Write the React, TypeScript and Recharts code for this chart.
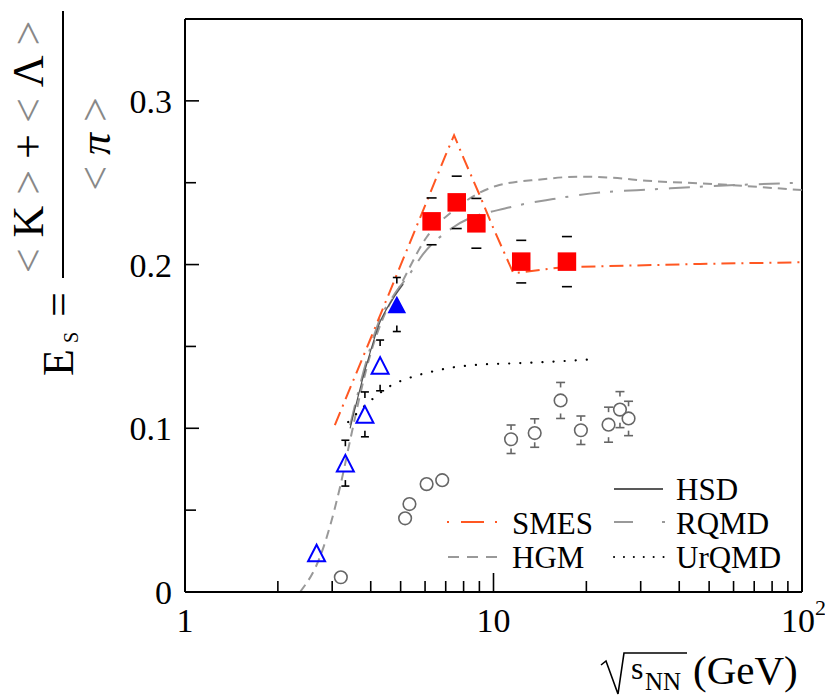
import React from "react";
import {
  ComposedChart,
  XAxis,
  YAxis,
  Line,
  Scatter,
  ReferenceLine,
  Legend,
} from "recharts";

const FONT = '"Liberation Serif", "DejaVu Serif", "Times New Roman", serif';
const serif = { fontFamily: FONT };

// NA49 Pb+Pb, red squares (systematic error shown as caps only)
const na49X = [6.3, 7.6, 8.8, 12.3, 17.3];
const na49Y = [0.2264, 0.238, 0.2252, 0.2018, 0.2018];
const na49Err = [0.0143, 0.016, 0.0152, 0.013, 0.0153];

// filled blue triangle
const fullTriX = [4.86];
const fullTriY = [0.1756];
const fullTriErr = [0.0165];

// AGS, open blue triangles
const openTriX = [2.67, 3.31, 3.83, 4.29];
const openTriY = [0.0238, 0.0787, 0.1085, 0.1384];
const openTriErr = [0, 0.014, 0.0137, 0.0155];

// p+p, open grey circles
const ppX = [3.2, 5.17, 5.34, 6.07, 6.82, 11.4, 13.6, 16.5, 19.2, 23.6, 25.7, 27.4];
const ppY = [0.009, 0.045, 0.0537, 0.0659, 0.0683, 0.0933, 0.0971, 0.117, 0.0988, 0.1022, 0.1114, 0.106];
const ppErr = [0, 0, 0, 0, 0, 0.0087, 0.0087, 0.011, 0.0087, 0.0107, 0.011, 0.0105];

// model curves
const smesX = [3.06, 4, 5, 6, 7, 7.45, 8, 9, 10, 11.6, 16.8, 46.7, 100];
const smesY = [0.102, 0.155, 0.1996, 0.236, 0.267, 0.279, 0.265, 0.2428, 0.222, 0.1947, 0.1984, 0.2004, 0.2014];

const hgmX = [2.36, 2.74, 3.18, 3.43, 3.69, 3.98, 4.45, 4.98, 6.07, 7.41, 10.2, 14.2, 19.1, 24.4, 31.4, 51.4, 100];
const hgmY = [0, 0.0215, 0.064, 0.0927, 0.12, 0.1445, 0.17, 0.187, 0.2167, 0.233, 0.248, 0.252, 0.2537, 0.253, 0.2512, 0.2492, 0.2455];

const rqmdX = [3.43, 3.88, 4.29, 4.72, 5.36, 5.92, 7.41, 11.3, 15.6, 22.1, 33.4, 46.7, 100];
const rqmdY = [0.1018, 0.1415, 0.167, 0.1805, 0.1945, 0.2065, 0.2228, 0.235, 0.24, 0.244, 0.246, 0.2476, 0.25];

const hsdX = [3.43, 3.88, 4.29, 4.72, 5.1];
const hsdY = [0.1, 0.139, 0.165, 0.179, 0.188];

const urqmdX = [3.38, 4.03, 4.62, 5.36, 6.31, 7.5, 8.82, 11.3, 14.5, 20.3];
const urqmdY = [0.1038, 0.1175, 0.1258, 0.1309, 0.1346, 0.1374, 0.1388, 0.1396, 0.1404, 0.142];

// axis ticks
const xMajor = [1, 10, 100];
const xMinor = [2, 3, 4, 5, 6, 7, 8, 9, 20, 30, 40, 50, 60, 70, 80, 90];
const yMajor = [0, 0.1, 0.2, 0.3];
const yMinor = [0.05, 0.15, 0.25];

const pts = (xs: number[], ys: number[]) => xs.map((x, i) => ({ x, y: ys[i] }));
const capsUp = (xs: number[], ys: number[], es: number[]) =>
  xs.map((x, i) => ({ x, y: ys[i] + es[i], e: es[i] })).filter((d) => d.e > 0);
const capsDown = (xs: number[], ys: number[], es: number[]) =>
  xs.map((x, i) => ({ x, y: ys[i] - es[i], e: es[i] })).filter((d) => d.e > 0);

const Square = (p: any) => (
  <rect x={p.cx - 9.25} y={p.cy - 9.25} width={18.5} height={18.5} fill="#ff0000" />
);
const triPoints = (cx: number, cy: number, hw: number, hh: number) =>
  `${cx},${cy - hh} ${cx - hw},${cy + hh} ${cx + hw},${cy + hh}`;
const FullTri = (p: any) => <polygon points={triPoints(p.cx, p.cy, 9.3, 8.7)} fill="#0000ff" />;
const OpenTri = (p: any) => (
  <polygon points={triPoints(p.cx, p.cy, 8.5, 8.3)} fill="none" stroke="#0000ff" strokeWidth={2} />
);
const OpenCircle = (p: any) => (
  <circle cx={p.cx} cy={p.cy} r={6.3} fill="#fff" fillOpacity={0} stroke="#666" strokeWidth={1.6} />
);

// error bar end: horizontal cap plus a short stem pointing at the marker
const cap = (dir: number, color: string, w: number, stem: number) => (p: any) => (
  <g stroke={color} strokeWidth={1.6}>
    <line x1={p.cx - w / 2} x2={p.cx + w / 2} y1={p.cy} y2={p.cy} />
    {stem > 0 && <line x1={p.cx} x2={p.cx} y1={p.cy} y2={p.cy + dir * stem} />}
  </g>
);

function XTick({ x, y, payload }: any) {
  const v = payload.value;
  const major = xMajor.includes(v);
  return (
    <g>
      <line x1={x} x2={x} y1={y} y2={y - (major ? 19 : 11)} stroke="#000" strokeWidth={1.6} />
      {major && v < 100 && (
        <text x={x} y={y + 40} textAnchor="middle" fontSize={34} style={serif} fill="#000">
          {v}
        </text>
      )}
      {v === 100 && (
        <g style={serif} fill="#000">
          <text x={x - 4} y={y + 40} textAnchor="middle" fontSize={34}>10</text>
          <text x={x + 13} y={y + 23} fontSize={22}>2</text>
        </g>
      )}
    </g>
  );
}

function YTick({ x, y, payload }: any) {
  const v = payload.value;
  const major = yMajor.includes(v);
  return (
    <g>
      <line x1={x} x2={x + (major ? 14 : 11)} y1={y} y2={y} stroke="#000" strokeWidth={1.6} />
      {major && (
        <text x={x - 13} y={y + 12} textAnchor="end" fontSize={34} style={serif} fill="#000">
          {v === 0 ? "0" : v.toFixed(1)}
        </text>
      )}
    </g>
  );
}

const renderYLabel = () => (
  <g style={serif} fill="#000">
    <text transform="translate(43,147) rotate(-90)" textAnchor="middle" fontSize={44}>
      <tspan fill="#888">&lt;</tspan> K <tspan fill="#888">&gt;</tspan> + <tspan fill="#888">&lt;</tspan> Λ{" "}
      <tspan fill="#888">&gt;</tspan>
    </text>
    <line x1={63} x2={63} y1={11} y2={278} stroke="#000" strokeWidth={2} />
    <text transform="translate(110,144) rotate(-90)" textAnchor="middle" fontSize={44}>
      <tspan fill="#888">&lt;</tspan> <tspan fontStyle="italic">π</tspan> <tspan fill="#888">&gt;</tspan>
    </text>
    <text transform="translate(73,376) rotate(-90)" fontSize={44}>E</text>
    <text transform="translate(78,343) rotate(-90)" fontSize={20}>S</text>
    <text transform="translate(73,317) rotate(-90)" fontSize={44}>=</text>
  </g>
);

const renderXLabel = () => (
  <g style={serif} fill="#000">
    <path d="M601,665 L606,661 L618,694 L624,653 L687,653" fill="none" stroke="#000" strokeWidth={1.6} />
    <text x={631} y={679} fontSize={32}>s</text>
    <text x={645} y={690} fontSize={25}>NN</text>
    <text x={693} y={684} fontSize={41}>(GeV)</text>
  </g>
);

const renderLegend = () => (
  <svg width={825} height={697} style={{ display: "block" }}>
    <g style={serif} fontSize={31} fill="#000">
      <line x1={447} x2={497} y1={522} y2={522} stroke="#ff5722" strokeWidth={2} strokeDasharray="2 12 23 11 2" />
      <text x={512} y={534}>SMES</text>
      <line x1={448} x2={497} y1={557} y2={557} stroke="#999" strokeWidth={2} strokeDasharray="11 8" />
      <text x={512} y={568}>HGM</text>
      <line x1={614} x2={663} y1={489} y2={489} stroke="#222" strokeWidth={1.6} />
      <text x={676} y={500}>HSD</text>
      <line x1={614} x2={666} y1={522} y2={522} stroke="#999" strokeWidth={2} strokeDasharray="19 29 3 10" />
      <text x={676} y={534}>RQMD</text>
      <line x1={614} x2={664} y1={557} y2={557} stroke="#000" strokeWidth={2} strokeDasharray="0.1 9.8" strokeLinecap="round" />
      <text x={676} y={568}>UrQMD</text>
    </g>
  </svg>
);

export default function App() {
  const xTicks = [...xMajor, ...xMinor].sort((a, b) => a - b);
  const yTicks = [...yMajor, ...yMinor].sort((a, b) => a - b);
  return (
    <div style={{ width: 825, height: 697, background: "#fff" }}>
      <style>{"body{margin:0;background:#fff}"}</style>
      <ComposedChart width={825} height={697} margin={{ top: 19, right: 23, bottom: 0, left: 0 }}>
        <XAxis
          type="number"
          dataKey="x"
          scale="log"
          domain={[1, 100]}
          allowDataOverflow
          ticks={xTicks}
          interval={0}
          tickSize={0}
          tickMargin={0}
          tickLine={false}
          tick={<XTick />}
          axisLine={{ stroke: "#000", strokeWidth: 2 }}
          height={105}
          label={renderXLabel}
        />
        <YAxis
          type="number"
          dataKey="y"
          domain={[0, 0.35]}
          allowDataOverflow
          ticks={yTicks}
          interval={0}
          tickSize={0}
          tickMargin={0}
          tickLine={false}
          tick={<YTick />}
          axisLine={{ stroke: "#000", strokeWidth: 2 }}
          width={185}
          label={renderYLabel}
        />
        <ReferenceLine y={0.35} stroke="#000" strokeWidth={2} />
        <ReferenceLine x={100} stroke="#000" strokeWidth={2} />

        <Line data={pts(hgmX, hgmY)} dataKey="y" type="monotone" dot={false} stroke="#999" strokeWidth={2} strokeDasharray="9 6" isAnimationActive={false} />
        <Line data={pts(rqmdX, rqmdY)} dataKey="y" type="monotone" dot={false} stroke="#999" strokeWidth={2} strokeDasharray="21 10 3 11" isAnimationActive={false} />
        <Line data={pts(hsdX, hsdY)} dataKey="y" type="monotone" dot={false} stroke="#555" strokeWidth={1.2} isAnimationActive={false} />
        <Line data={pts(urqmdX, urqmdY)} dataKey="y" type="monotone" dot={false} stroke="#000" strokeWidth={2.2} strokeDasharray="0.1 11" strokeLinecap="round" isAnimationActive={false} />
        <Line data={pts(smesX, smesY)} dataKey="y" type="linear" dot={false} stroke="#ff5722" strokeWidth={2} strokeDasharray="14 6 2 6" isAnimationActive={false} />

        <Scatter data={capsUp(ppX, ppY, ppErr)} dataKey="y" shape={cap(1, "#666", 9, 5)} isAnimationActive={false} />
        <Scatter data={capsDown(ppX, ppY, ppErr)} dataKey="y" shape={cap(-1, "#666", 9, 5)} isAnimationActive={false} />
        <Scatter data={pts(ppX, ppY)} dataKey="y" shape={OpenCircle} isAnimationActive={false} />

        <Scatter data={capsUp(openTriX, openTriY, openTriErr)} dataKey="y" shape={cap(1, "#000", 8, 6)} isAnimationActive={false} />
        <Scatter data={capsDown(openTriX, openTriY, openTriErr)} dataKey="y" shape={cap(-1, "#000", 8, 6)} isAnimationActive={false} />
        <Scatter data={pts(openTriX, openTriY)} dataKey="y" shape={OpenTri} isAnimationActive={false} />

        <Scatter data={capsUp(fullTriX, fullTriY, fullTriErr)} dataKey="y" shape={cap(1, "#000", 8, 6)} isAnimationActive={false} />
        <Scatter data={capsDown(fullTriX, fullTriY, fullTriErr)} dataKey="y" shape={cap(-1, "#000", 8, 6)} isAnimationActive={false} />
        <Scatter data={pts(fullTriX, fullTriY)} dataKey="y" shape={FullTri} isAnimationActive={false} />

        <Scatter data={capsUp(na49X, na49Y, na49Err)} dataKey="y" shape={cap(1, "#000", 10, 0)} isAnimationActive={false} />
        <Scatter data={capsDown(na49X, na49Y, na49Err)} dataKey="y" shape={cap(-1, "#000", 10, 0)} isAnimationActive={false} />
        <Scatter data={pts(na49X, na49Y)} dataKey="y" shape={Square} isAnimationActive={false} />

        <Legend
          layout="horizontal"
          verticalAlign="middle"
          align="center"
          content={renderLegend}
          wrapperStyle={{ left: 0, top: 0, width: 825, height: 697, pointerEvents: "none" }}
        />
      </ComposedChart>
    </div>
  );
}
